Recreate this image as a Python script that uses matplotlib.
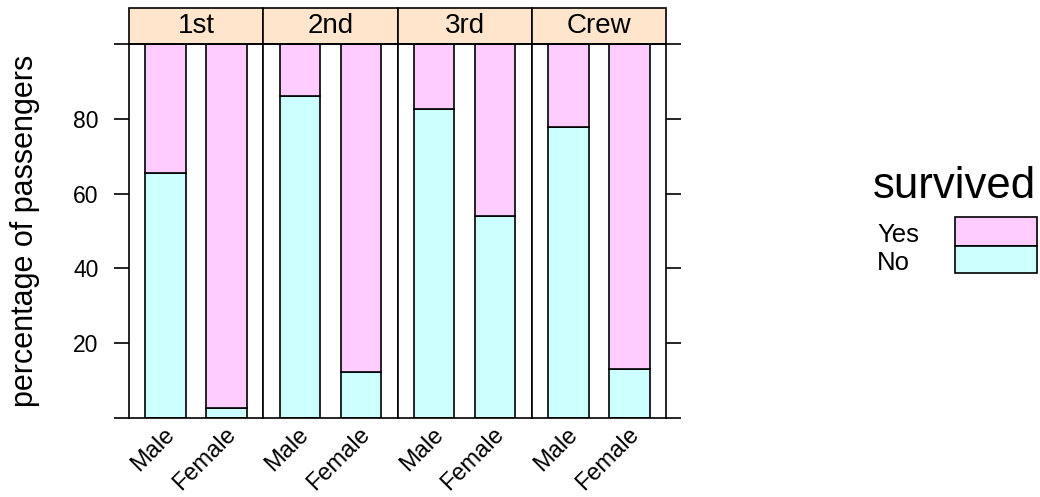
import matplotlib
matplotlib.use("Agg")
import matplotlib.pyplot as plt
from matplotlib.patches import Rectangle
from matplotlib.transforms import ScaledTranslation

plt.rcParams["font.family"] = ["Liberation Sans", "DejaVu Sans"]

# percentage of passengers per class / sex
classes = ["1st", "2nd", "3rd", "Crew"]
sexes = ["Male", "Female"]
no_male = [65.6, 86.0, 82.7, 77.7]
yes_male = [34.4, 14.0, 17.3, 22.3]
no_female = [2.8, 12.3, 54.1, 13.0]
yes_female = [97.2, 87.7, 45.9, 87.0]
legend_labels = ["Yes", "No"]

COL_NO = "#CCFFFF"
COL_YES = "#FFCCFF"
COL_STRIP = "#FFE5CC"

W, H = 1040, 497
fig = plt.figure(figsize=(W / 100, H / 100), dpi=100)


def fx(px):
    return px / W


def fy(py):
    return 1 - py / H


left_px, right_px = 129, 666
top_px, bottom_px = 44, 418
strip_top_px = 8
panel_w = (right_px - left_px) / len(classes)
strip_h = (top_px - strip_top_px) / (bottom_px - top_px)

lw = 1.2
shift = ScaledTranslation(10 / 100, 0, fig.dpi_scale_trans)
for i, cls in enumerate(classes):
    ax = fig.add_axes([fx(left_px + i * panel_w), fy(bottom_px),
                       fx(panel_w), (bottom_px - top_px) / H])
    xs = [1, 2]
    no_vals = [no_male[i], no_female[i]]
    yes_vals = [yes_male[i], yes_female[i]]
    ax.bar(xs, no_vals, width=2 / 3, color=COL_NO, edgecolor="black", linewidth=lw)
    ax.bar(xs, yes_vals, width=2 / 3, bottom=no_vals, color=COL_YES,
           edgecolor="black", linewidth=lw)
    ax.set_xlim(0.4, 2.6)
    ax.set_ylim(0, 100)
    for sp in ax.spines.values():
        sp.set_linewidth(lw)
    ax.set_xticks(xs)
    ax.set_xticklabels(sexes, rotation=45, ha="right", va="baseline",
                       rotation_mode="anchor", fontsize=17)
    ax.tick_params(axis="x", length=0, pad=12.5)
    for lab in ax.get_xticklabels():
        lab.set_transform(lab.get_transform() + shift)

    ax.set_yticks([0, 20, 40, 60, 80, 100])
    if i == 0:
        ax.set_yticklabels(["", "20", "40", "60", "80", ""], fontsize=16.5)
        ax.tick_params(axis="y", direction="out", length=10.8, width=lw, pad=11)
    elif i == len(classes) - 1:
        ax.yaxis.tick_right()
        ax.set_yticklabels([])
        ax.tick_params(axis="y", direction="out", length=10.8, width=lw)
    else:
        ax.tick_params(axis="y", length=0, labelleft=False)

    ax.add_patch(Rectangle((0, 1), 1, strip_h, transform=ax.transAxes,
                           facecolor=COL_STRIP, edgecolor="black",
                           linewidth=lw, clip_on=False))
    ax.text(0.5, 1 + strip_h / 2, cls, transform=ax.transAxes,
            ha="center", va="center", fontsize=20)

fig.text(fx(25), fy((top_px + bottom_px) / 2), "percentage of passengers",
         rotation=90, ha="center", va="center", fontsize=22)

# legend
fig.text(fx(873), fy(198), "survived", ha="left", va="baseline", fontsize=31.5)
fig.text(fx(877), fy(242), legend_labels[0], ha="left", va="baseline", fontsize=18.5)
fig.text(fx(877), fy(270), legend_labels[1], ha="left", va="baseline", fontsize=18.5)
fig.add_artist(Rectangle((fx(955), fy(246)), fx(82), 29 / H, transform=fig.transFigure,
                         facecolor=COL_YES, edgecolor="black", linewidth=lw))
fig.add_artist(Rectangle((fx(955), fy(273)), fx(82), 27 / H, transform=fig.transFigure,
                         facecolor=COL_NO, edgecolor="black", linewidth=lw))

fig.savefig("out.png", dpi=100)
